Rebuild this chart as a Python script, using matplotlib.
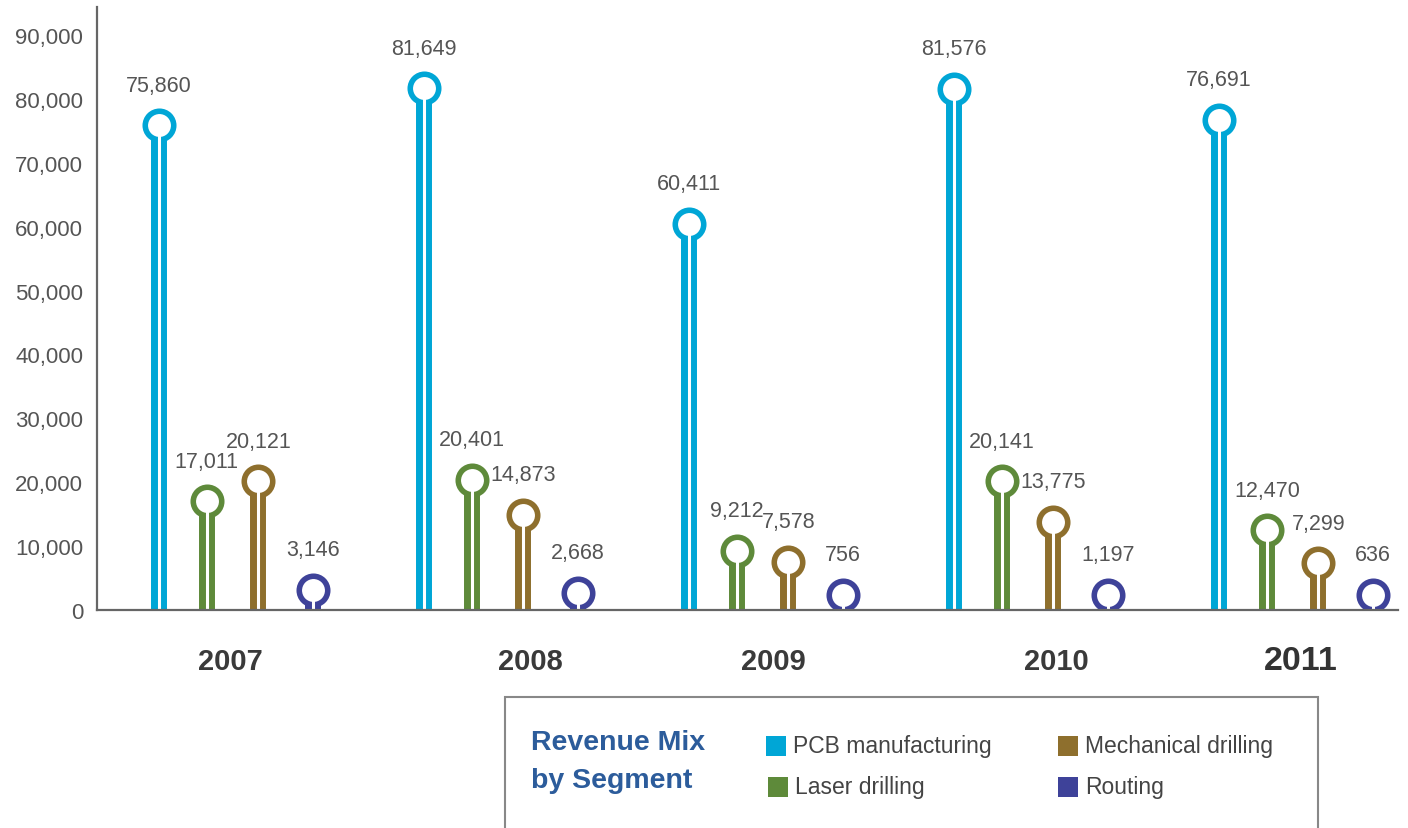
import numpy as np
import matplotlib
matplotlib.use("Agg")
import matplotlib.pyplot as plt
from matplotlib.patches import Rectangle

plt.rcParams['font.family'] = ['Liberation Sans', 'DejaVu Sans']

# data
years = ['2007', '2008', '2009', '2010', '2011']
segments = ['PCB manufacturing', 'Laser drilling', 'Mechanical drilling', 'Routing']
pcb = [75860, 81649, 60411, 81576, 76691]
laser = [17011, 20401, 9212, 20141, 12470]
mech = [20121, 14873, 7578, 13775, 7299]
routing = [3146, 2668, 756, 1197, 636]
series = [pcb, laser, mech, routing]
colors = ['#00A6D6', '#5E8A3A', '#8E6F2D', '#3E4299']

W, H = 1408, 829
fig = plt.figure(figsize=(W / 100, H / 100), dpi=100)
ax = fig.add_axes([97 / W, 1 - 611 / H, (1398 - 97) / W, (611 - 8) / H])

groups = np.arange(len(years))
offsets = [0, 0.18, 0.375, 0.58]
year_label_off = [0.27, 0.40, 0.32, 0.385, 0.31]
min_head = 2400  # keep small rings clear of the baseline

for vals, off, c in zip(series, offsets, colors):
    x = groups + off
    head = np.maximum(vals, min_head)
    ax.vlines(x, 0, head, colors=c, linewidth=11.5, zorder=2)
    ax.plot(x, head, 'o', ms=20.5, mfc='white', mec=c, mew=4, zorder=3)
    ax.vlines(x, 0, head, colors='white', linewidth=2.2, zorder=4)
    for xi, v, h in zip(x, vals, head):
        ax.annotate(f'{v:,}', (xi, h), xytext=(0, 29), textcoords='offset points',
                    ha='center', va='center', fontsize=15.5, color='#555555')

ax.set_xlim(-0.234, 4.675)
ax.set_ylim(0, 94400)
ax.set_yticks(range(0, 90001, 10000))
ax.set_yticklabels([f'{t:,}' for t in range(0, 90001, 10000)])
ax.set_xticks([])
ax.tick_params(axis='y', length=0, pad=10, labelsize=16, labelcolor='#555555')

for s in ['top', 'right']:
    ax.spines[s].set_visible(False)
for s in ['left', 'bottom']:
    ax.spines[s].set_color('#666666')
    ax.spines[s].set_linewidth(1.6)
    ax.spines[s].set_zorder(10)

# year labels
for i, yr in enumerate(years):
    big = (i == len(years) - 1)
    ax.text(i + year_label_off[i], -51 / 603, yr, transform=ax.get_xaxis_transform(),
            ha='center', va='center', fontweight='bold',
            fontsize=24.5 if big else 21, color='#333333' if big else '#3a3a3a')

# legend box
fig.patches.append(Rectangle((505 / W, -0.02), (1318 - 505) / W, 0.02 + 1 - 698 / H,
                             transform=fig.transFigure, fill=False,
                             edgecolor='#888888', linewidth=1.5))
fig.text(531 / W, 1 - 743 / H, 'Revenue Mix', ha='left', va='center',
         fontsize=20.5, fontweight='bold', color='#2C5C9B')
fig.text(531 / W, 1 - 781 / H, 'by Segment', ha='left', va='center',
         fontsize=20.5, fontweight='bold', color='#2C5C9B')

leg_pos = [(766, 747), (768, 788), (1058, 747), (1058, 788)]
for name, c, (lx, ly) in zip(segments, colors, leg_pos):
    fig.patches.append(Rectangle((lx / W, 1 - (ly + 10) / H), 20 / W, 20 / H,
                                 transform=fig.transFigure, facecolor=c, edgecolor='none'))
    fig.text((lx + 27) / W, 1 - ly / H, name, ha='left', va='center',
             fontsize=16.5, color='#444444')

fig.savefig('out.png', dpi=100)
